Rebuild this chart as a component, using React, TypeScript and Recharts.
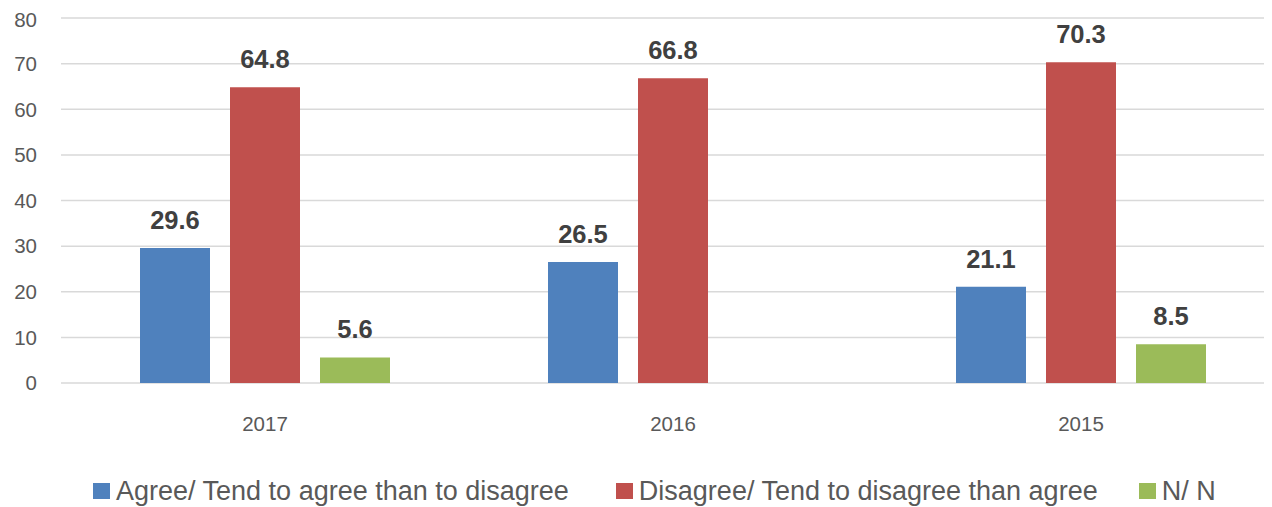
import React from 'react';
import { BarChart, Bar, XAxis, YAxis, CartesianGrid, Legend, LabelList } from 'recharts';

const years = ['2017', '2016', '2015'];
const agree = [29.6, 26.5, 21.1];
const disagree = [64.8, 66.8, 70.3];
const nn: (number | null)[] = [5.6, null, 8.5];
const yTicks = [0, 10, 20, 30, 40, 50, 60, 70, 80];

const seriesNames = ['Agree/ Tend to agree than to disagree', 'Disagree/ Tend to disagree than agree', 'N/ N'];
const colors = ['#4F81BD', '#C0504D', '#9BBB59'];

const data = years.map((y, i) => ({ year: y, agree: agree[i], disagree: disagree[i], nn: nn[i] }));

const FONT = '"Liberation Sans", Arial, sans-serif';

const fmt = (v: any) => (v === null || v === undefined ? '' : v);

const renderLegend = () => (
  <div style={{ height: 54, paddingLeft: 85, boxSizing: 'border-box', display: 'flex', alignItems: 'flex-start', fontFamily: FONT }}>
    {seriesNames.map((n, i) => (
      <div key={n} style={{ display: 'flex', alignItems: 'center', marginTop: 23, marginRight: i === 1 ? 41 : 47, height: 30 }}>
        <div style={{ width: 17, height: 16, background: colors[i], marginRight: 6 }} />
        <span style={{ fontSize: 27, color: '#595959', whiteSpace: 'nowrap', lineHeight: '30px' }}>{n}</span>
      </div>
    ))}
  </div>
);

export default function App() {
  return (
    <div style={{ width: 1264, height: 499, overflow: 'hidden' }}>
      <BarChart
        width={1290}
        height={499}
        data={data}
        margin={{ top: 10, right: 13, bottom: 0, left: 0 }}
        barGap={20}
        barCategoryGap={79}
        style={{ fontFamily: FONT }}
      >
        <CartesianGrid vertical={false} stroke="#D9D9D9" strokeWidth={1.5} />
        <XAxis
          dataKey="year"
          height={70}
          axisLine={false}
          tickLine={false}
          tickSize={0}
          tickMargin={33}
          tick={{ fill: '#595959', fontSize: 20.5, fontFamily: FONT }}
        />
        <YAxis
          width={53}
          domain={[0, 80]}
          ticks={yTicks}
          axisLine={false}
          tickLine={false}
          tickSize={0}
          tickMargin={24}
          tick={{ fill: '#595959', fontSize: 20.5, fontFamily: FONT }}
        />
        <Legend verticalAlign="bottom" content={renderLegend} wrapperStyle={{ left: 0, width: 1290 }} />
        <Bar dataKey="agree" name={seriesNames[0]} fill={colors[0]} barSize={70} isAnimationActive={false}>
          <LabelList dataKey="agree" position="top" offset={19} formatter={fmt} style={{ fill: '#404040', fontSize: 25.5, fontWeight: 700, fontFamily: FONT }} />
        </Bar>
        <Bar dataKey="disagree" name={seriesNames[1]} fill={colors[1]} barSize={70} isAnimationActive={false}>
          <LabelList dataKey="disagree" position="top" offset={19} formatter={fmt} style={{ fill: '#404040', fontSize: 25.5, fontWeight: 700, fontFamily: FONT }} />
        </Bar>
        <Bar dataKey="nn" name={seriesNames[2]} fill={colors[2]} barSize={70} isAnimationActive={false}>
          <LabelList dataKey="nn" position="top" offset={19} formatter={fmt} style={{ fill: '#404040', fontSize: 25.5, fontWeight: 700, fontFamily: FONT }} />
        </Bar>
      </BarChart>
    </div>
  );
}
